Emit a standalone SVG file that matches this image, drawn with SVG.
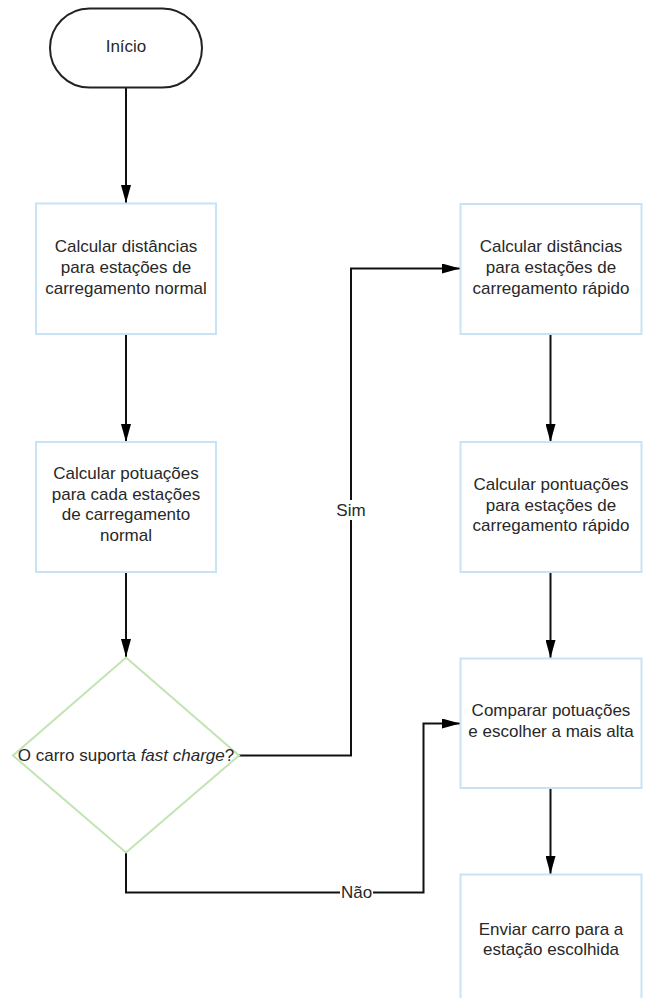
<svg xmlns="http://www.w3.org/2000/svg" width="646" height="998" viewBox="0 0 646 998">
<style>
text{font-family:"Liberation Sans",Arial,sans-serif;font-size:17px;fill:#282828;text-anchor:middle}
.box{fill:#fff;stroke:#c7e3f5;stroke-width:2}
.dia{fill:#fff;stroke:#c2e4b2;stroke-width:2}
.term{fill:#fff;stroke:#222;stroke-width:2}
.ln{fill:none;stroke:#111;stroke-width:2}
.lbl{fill:#fff;stroke:none}
</style>
<defs>
<marker id="ah" viewBox="0 0 18 10" refX="18" refY="5" markerWidth="18" markerHeight="10" markerUnits="userSpaceOnUse" orient="auto">
<path d="M0,0 L18,5 L0,10 Z" fill="#000"/>
</marker>
</defs>
<g id="connectors">
<path class="ln" d="M126,87 V203" marker-end="url(#ah)"/>
<path class="ln" d="M126,334 V442" marker-end="url(#ah)"/>
<path class="ln" d="M126,572 V657" marker-end="url(#ah)"/>
<path class="ln" d="M239,755.5 H351 V268.5 H460" marker-end="url(#ah)"/>
<rect class="lbl" x="336" y="500" width="31" height="20"/>
<text x="351" y="516">Sim</text>
<path class="ln" d="M126,852 V892.5 H423.5 V723.5 H460" marker-end="url(#ah)"/>
<rect class="lbl" x="340" y="882" width="33" height="20"/>
<text x="356.5" y="898">Não</text>
<path class="ln" d="M550.5,334 V442" marker-end="url(#ah)"/>
<path class="ln" d="M550.5,572 V658" marker-end="url(#ah)"/>
<path class="ln" d="M550.5,788 V874" marker-end="url(#ah)"/>
</g>
<g id="inicio">
<rect class="term" x="50" y="8.5" width="152" height="79" rx="39.5"/>
<text x="126" y="52">Início</text>
</g>
<g id="dist_normal">
<rect class="box" x="36" y="203.5" width="180" height="130.5"/>
<text x="126" y="252">Calcular distâncias</text>
<text x="126" y="273">para estações de</text>
<text x="126" y="293.5">carregamento normal</text>
</g>
<g id="pont_normal">
<rect class="box" x="36" y="442" width="180" height="130"/>
<text x="126" y="478.5">Calcular potuações</text>
<text x="126" y="499.5">para cada estações</text>
<text x="126" y="520">de carregamento</text>
<text x="126" y="541">normal</text>
</g>
<g id="decisao">
<polygon class="dia" points="126,657.5 239,755.5 126,852.5 13,755.5"/>
<text x="126" y="761">O carro suporta <tspan font-style="italic">fast charge</tspan>?</text>
</g>
<g id="dist_rapido">
<rect class="box" x="460.5" y="204" width="181" height="130"/>
<text x="551" y="252">Calcular distâncias</text>
<text x="551" y="273">para estações de</text>
<text x="551" y="293.5">carregamento rápido</text>
</g>
<g id="pont_rapido">
<rect class="box" x="460.5" y="442" width="181" height="130"/>
<text x="551" y="490">Calcular pontuações</text>
<text x="551" y="510.7">para estações de</text>
<text x="551" y="531">carregamento rápido</text>
</g>
<g id="comparar">
<rect class="box" x="460.5" y="658.5" width="181" height="129.5"/>
<text x="551" y="716">Comparar potuações</text>
<text x="551" y="737">e escolher a mais alta</text>
</g>
<g id="enviar">
<rect class="box" x="460.5" y="874.5" width="181" height="130"/>
<text x="551" y="934.5">Enviar carro para a</text>
<text x="551" y="955">estação escolhida</text>
</g>
</svg>
